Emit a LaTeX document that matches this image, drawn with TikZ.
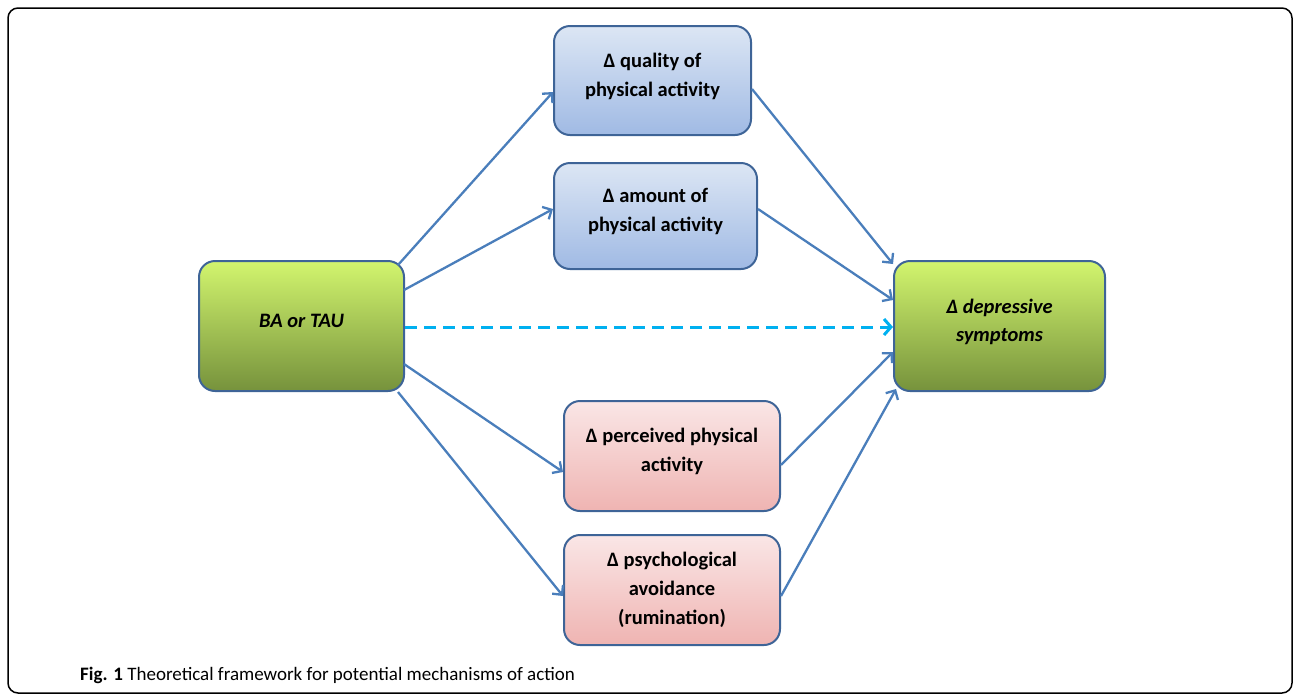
\documentclass[tikz,border=0pt]{standalone}
\usepackage{fontspec}
\setmainfont{Carlito}
\usetikzlibrary{arrows.meta,shapes.misc}
\definecolor{bordc}{HTML}{3E6497}
\definecolor{arrc}{HTML}{4A7EBB}
\definecolor{dashc}{HTML}{00B0F0}
\definecolor{gtop}{HTML}{D2F56E}
\definecolor{gbot}{HTML}{76923C}
\definecolor{btop}{HTML}{DCE6F4}
\definecolor{bbot}{HTML}{A0BAE4}
\definecolor{ptop}{HTML}{FAE6E6}
\definecolor{pbot}{HTML}{EFB4B2}
\newcommand\boxtxt[2][9pt]{\raisebox{0pt}[\height][\dimexpr\depth+#1\relax]{\begin{tabular}{@{}c@{}}#2\end{tabular}}}
\tikzset{
  box/.style={draw=bordc, line width=2pt, rounded corners=16pt,
    font=\fontsize{20.5}{29}\selectfont\bfseries, inner sep=0pt},
  greenbox/.style={box, top color=gtop, bottom color=gbot, font=\fontsize{20.5}{28}\selectfont\bfseries\itshape},
  bluebox/.style={box, top color=btop, bottom color=bbot},
  pinkbox/.style={box, top color=ptop, bottom color=pbot},
  conn/.style={draw=arrc, line width=2.3pt, -{Straight Barb[length=7pt,width=14pt,line width=2.3pt]}},
  dconn/.style={draw=dashc, line width=3pt, dash pattern=on 12pt off 7pt, -{Straight Barb[length=7pt,width=16pt,line width=3pt]}}
}
\begin{document}
\begin{tikzpicture}[x=1pt,y=-1pt]
\useasboundingbox (0,0) rectangle (1295,697);
\draw[line width=1.5pt, rounded corners=10pt] (8,8) rectangle (1292,693);

\node[greenbox, minimum width=205pt, minimum height=130pt] (ba) at (301.5,326) {\boxtxt{BA or TAU}};
\node[bluebox, minimum width=197pt, minimum height=109pt] (qual) at (652.5,80.5) {\boxtxt{Δ quality of\\physical activity}};
\node[bluebox, minimum width=203pt, minimum height=106pt] (amt) at (655.5,216) {\boxtxt{Δ amount of\\physical activity}};
\node[pinkbox, minimum width=216pt, minimum height=110pt] (perc) at (672,456) {\boxtxt{Δ perceived physical\\activity}};
\node[pinkbox, minimum width=216pt, minimum height=110pt] (psy) at (672,590) {\boxtxt[1pt]{Δ psychological\\avoidance\\(rumination)}};
\node[greenbox, minimum width=211pt, minimum height=130pt] (dep) at (999.5,326) {\boxtxt{Δ depressive\\symptoms}};

\coordinate (b1) at (398,265);
\coordinate (b2) at (404,290);
\coordinate (b3) at (404,364);
\coordinate (b4) at (398,392);
\coordinate (d1) at (893,264);
\coordinate (d2) at (893,300);
\coordinate (d3) at (893,352);
\coordinate (d4) at (896,389);

\draw[conn] (b1) -- (qual.west |- 0,92);
\draw[conn] (b2) -- (amt.west |- 0,209);
\draw[conn] (b3) -- (perc.west |- 0,472);
\draw[conn] (b4) -- (psy.west |- 0,596);
\draw[dconn] (ba.east |- 0,327) -- (dep.west |- 0,327);
\draw[conn] (qual.east |- 0,89) -- (d1);
\draw[conn] (amt.east |- 0,209) -- (d2);
\draw[conn] (perc.east |- 0,465) -- (d3);
\draw[conn] (psy.east |- 0,596) -- (d4);

\node[anchor=base west, inner sep=0pt, font=\fontsize{19}{22}\selectfont] (cap) at (80,680) {\textbf{Fig. 1} Theoretical framework for potential mechanisms of action};
\end{tikzpicture}
\end{document}
